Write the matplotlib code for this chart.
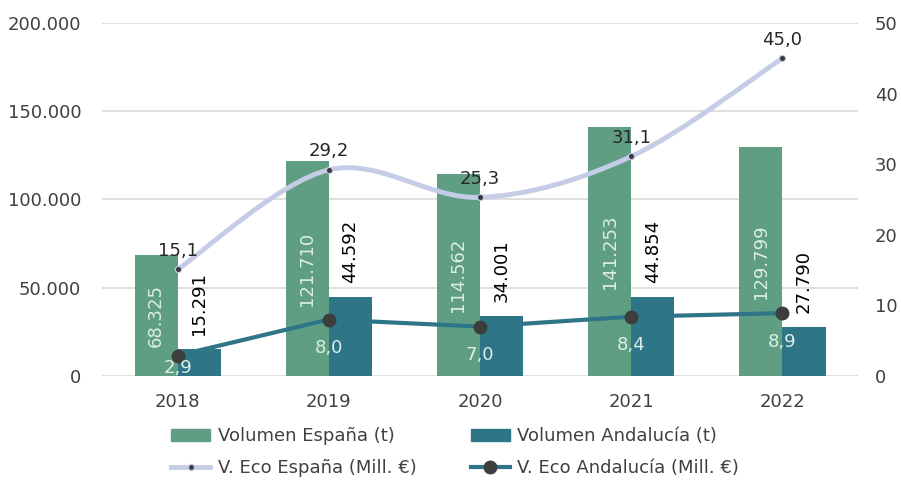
import numpy as np
import matplotlib.pyplot as plt
from matplotlib.path import Path
from matplotlib.patches import PathPatch
from matplotlib.lines import Line2D
from matplotlib.patches import Patch

# Data
years = ['2018', '2019', '2020', '2021', '2022']
vol_espana = [68325, 121710, 114562, 141253, 129799]
vol_andalucia = [15291, 44592, 34001, 44854, 27790]
eco_espana = [15.1, 29.2, 25.3, 31.1, 45.0]
eco_andalucia = [2.9, 8.0, 7.0, 8.4, 8.9]

c_esp_bar = '#5f9e82'
c_and_bar = '#2e7587'
c_esp_line = '#c4cce6'
c_and_line = '#2e7587'
c_marker = '#3d3d3d'
c_text = '#404040'
c_light = '#dcefe4'

plt.rcParams['font.family'] = ['DejaVu Sans']
plt.rcParams['font.size'] = 13


def fmt(v):
    return '{:,.0f}'.format(v).replace(',', '.')


def fmt_dec(v):
    return '{:.1f}'.format(v).replace('.', ',')


fig = plt.figure(figsize=(9.01, 4.82), dpi=100)
ax = fig.add_axes([0.1132, 0.2199, 0.8391, 0.7324])
ax2 = ax.twinx()

x = np.arange(len(years))
w = 0.285
ax.bar(x - w / 2, vol_espana, w, color=c_esp_bar, zorder=2)
ax.bar(x + w / 2, vol_andalucia, w, color=c_and_bar, zorder=2)

ax.set_xlim(-0.5, 4.5)
ax.set_ylim(0, 200000)
ax.set_yticks(np.arange(0, 200001, 50000))
ax.set_yticklabels([fmt(v) for v in np.arange(0, 200001, 50000)])
ax.set_xticks(x)
ax.set_xticklabels(years)
ax.grid(axis='y', color='#d9d9d9', lw=1.2, zorder=0)
ax.set_axisbelow(True)
ax.tick_params(length=0, colors=c_text, labelsize=13)
ax.tick_params(axis='y', pad=15)
ax.tick_params(axis='x', pad=12)
for s in ax.spines.values():
    s.set_visible(False)

ax2.set_ylim(0, 50)
ax2.set_yticks(np.arange(0, 51, 10))
ax2.tick_params(length=0, colors=c_text, labelsize=13, pad=12)
for s in ax2.spines.values():
    s.set_visible(False)

# bar labels
for i in range(len(years)):
    ax.text(x[i] - w / 2, vol_espana[i] / 2, fmt(vol_espana[i]), rotation=90,
            ha='center', va='center', color=c_light, fontsize=13, zorder=3)
    ax.annotate(fmt(vol_andalucia[i]), (x[i] + w / 2, vol_andalucia[i]),
                xytext=(0, 10), textcoords='offset points', rotation=90,
                ha='center', va='bottom', color='black', fontsize=13, zorder=3)

# smoothed Espana line (Excel style bezier)
pts = np.column_stack([x, eco_espana]).astype(float)
verts = [pts[0]]
codes = [Path.MOVETO]
n = len(pts)
for i in range(n - 1):
    p0 = pts[max(i - 1, 0)]
    p1 = pts[i]
    p2 = pts[i + 1]
    p3 = pts[min(i + 2, n - 1)]
    verts += [p1 + (p2 - p0) / 6, p2 - (p3 - p1) / 6, p2]
    codes += [Path.CURVE4] * 3
ax2.add_patch(PathPatch(Path(verts, codes), fill=False, edgecolor=c_esp_line,
                        lw=3.5, capstyle='round', zorder=4))
ax2.plot(x, eco_espana, ls='none', marker='o', ms=4.5, color=c_marker,
         mec=c_esp_line, mew=0.8, zorder=5)

ax2.plot(x, eco_andalucia, color=c_and_line, lw=3, marker='o', ms=9,
         mfc=c_marker, mec=c_marker, zorder=5)

for i in range(len(years)):
    ax2.annotate(fmt_dec(eco_espana[i]), (x[i], eco_espana[i]),
                 xytext=(0, 7), textcoords='offset points',
                 ha='center', va='bottom', color='#262626', fontsize=13, zorder=6)
    y = max(eco_andalucia[i] - 2.8, 2.4)
    ax2.text(x[i], y, fmt_dec(eco_andalucia[i]), ha='center', va='top',
             color=c_light, fontsize=13, zorder=6)

handles = [
    Patch(color=c_esp_bar),
    Line2D([], [], color=c_esp_line, lw=3.5, marker='o', ms=4.5, mfc=c_marker, mec=c_esp_line),
    Patch(color=c_and_bar),
    Line2D([], [], color=c_and_line, lw=3, marker='o', ms=9, mfc=c_marker, mec=c_marker),
]
labels = ['Volumen España (t)', 'V. Eco España (Mill. €)',
          'Volumen Andalucía (t)', 'V. Eco Andalucía (Mill. €)']
leg = fig.legend(handles, labels, ncol=2, loc='center', bbox_to_anchor=(0.505, 0.062),
                 frameon=False, fontsize=13, handlelength=2.2, handletextpad=0.4,
                 columnspacing=3.0, labelspacing=0.75, handleheight=0.7)
for t in leg.get_texts():
    t.set_color(c_text)

plt.savefig('out.png', dpi=100)
